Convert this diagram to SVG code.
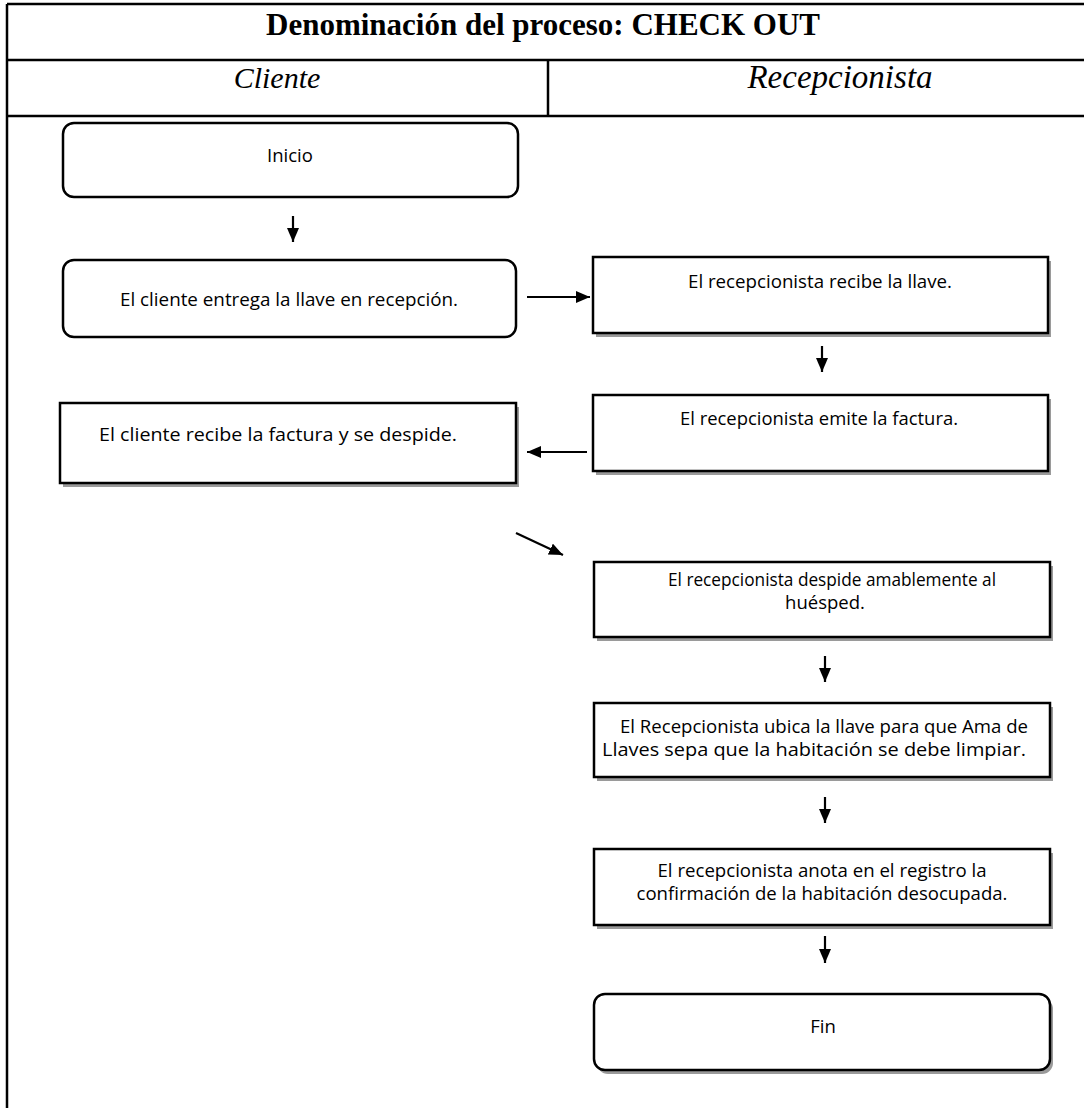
<svg xmlns="http://www.w3.org/2000/svg" width="1084" height="1108" viewBox="0 0 1084 1108">
  <style>
    .grid { stroke: #000; stroke-width: 2.5; fill: none; }
    .title { font-family: "Liberation Serif", serif; font-weight: bold; font-size: 31px; text-anchor: middle; }
    .lane { font-family: "Liberation Serif", serif; font-style: italic; font-size: 30px; text-anchor: middle; }
    .box { fill: #fff; stroke: #000; stroke-width: 2.5; }
    .shadow { fill: #9a9a9a; }
    .label { font-family: "Open Sans", "Noto Sans", sans-serif; font-size: 18.5px; text-anchor: middle; fill: #000; }
    .conn { stroke: #000; stroke-width: 2.2; fill: none; marker-end: url(#head); }
  </style>
  <defs>
    <marker id="head" markerUnits="userSpaceOnUse" markerWidth="16" markerHeight="14" refX="14" refY="6" orient="auto">
      <path d="M0,0 L14,6 L0,12 Z" fill="#000"/>
    </marker>
  </defs>

  <rect width="1084" height="1108" fill="#fff"/>

  <!-- table frame: title row, lane header row, open body -->
  <g id="table">
    <line class="grid" x1="7" y1="4" x2="1084" y2="4"/>
    <line class="grid" x1="7" y1="4" x2="7" y2="1108"/>
    <line class="grid" x1="7" y1="60" x2="1084" y2="60"/>
    <line class="grid" x1="7" y1="116" x2="1084" y2="116"/>
    <line class="grid" x1="548" y1="60" x2="548" y2="116"/>
    <text class="title" x="543" y="35">Denominación del proceso: CHECK OUT</text>
    <text class="lane" x="277" y="88">Cliente</text>
    <text class="lane" x="840" y="88" style="font-size:33px">Recepcionista</text>
  </g>

  <g id="inicio">
    <rect class="box" x="63" y="123" width="455" height="74" rx="11"/>
    <text class="label" x="290" y="162">Inicio</text>
  </g>

  <g id="cliente-entrega">
    <rect class="box" x="63" y="260" width="453" height="77" rx="11"/>
    <text class="label" x="289" y="306" textLength="338" lengthAdjust="spacingAndGlyphs">El cliente entrega la llave en recepción.</text>
  </g>

  <g id="recibe-llave">
    <rect class="shadow" x="596" y="261" width="455" height="76"/>
    <rect class="box" x="593" y="257" width="455" height="76"/>
    <text class="label" x="820" y="288" textLength="264" lengthAdjust="spacingAndGlyphs">El recepcionista recibe la llave.</text>
  </g>

  <g id="emite-factura">
    <rect class="shadow" x="596" y="399" width="455" height="76"/>
    <rect class="box" x="593" y="395" width="455" height="76"/>
    <text class="label" x="819" y="425" textLength="278" lengthAdjust="spacingAndGlyphs">El recepcionista emite la factura.</text>
  </g>

  <g id="cliente-recibe">
    <rect class="shadow" x="63" y="407" width="456" height="80"/>
    <rect class="box" x="60" y="403" width="456" height="80"/>
    <text class="label" x="278" y="441" textLength="358" lengthAdjust="spacingAndGlyphs">El cliente recibe la factura y se despide.</text>
  </g>

  <g id="despide">
    <rect class="shadow" x="597" y="566" width="456" height="75"/>
    <rect class="box" x="594" y="562" width="456" height="75"/>
    <text class="label" x="832" y="586" textLength="328" lengthAdjust="spacingAndGlyphs">El recepcionista despide amablemente al</text>
    <text class="label" x="825" y="609">huésped.</text>
  </g>

  <g id="ubica-llave">
    <rect class="shadow" x="597" y="707" width="456" height="74"/>
    <rect class="box" x="594" y="703" width="456" height="74"/>
    <text class="label" x="824" y="733" textLength="408" lengthAdjust="spacingAndGlyphs">El Recepcionista ubica la llave para que Ama de</text>
    <text class="label" x="814" y="756" textLength="424" lengthAdjust="spacingAndGlyphs">Llaves sepa que la habitación se debe limpiar.</text>
  </g>

  <g id="anota-registro">
    <rect class="shadow" x="597" y="853" width="456" height="76"/>
    <rect class="box" x="594" y="849" width="456" height="76"/>
    <text class="label" x="822" y="877" textLength="329" lengthAdjust="spacingAndGlyphs">El recepcionista anota en el registro la</text>
    <text class="label" x="822" y="900" textLength="371" lengthAdjust="spacingAndGlyphs">confirmación de la habitación desocupada.</text>
  </g>

  <g id="fin">
    <rect class="shadow" x="597" y="998" width="456" height="76" rx="11"/>
    <rect class="box" x="594" y="994" width="456" height="76" rx="11"/>
    <text class="label" x="823" y="1033">Fin</text>
  </g>

  <g id="connectors">
    <line class="conn" x1="293" y1="216" x2="293" y2="242"/>
    <line class="conn" x1="527" y1="297" x2="590" y2="297"/>
    <line class="conn" x1="822" y1="346" x2="822" y2="372"/>
    <line class="conn" x1="587" y1="452" x2="527" y2="452"/>
    <line class="conn" x1="516" y1="533" x2="563" y2="555"/>
    <line class="conn" x1="825" y1="656" x2="825" y2="682"/>
    <line class="conn" x1="825" y1="797" x2="825" y2="823"/>
    <line class="conn" x1="825" y1="936" x2="825" y2="963"/>
  </g>
</svg>
